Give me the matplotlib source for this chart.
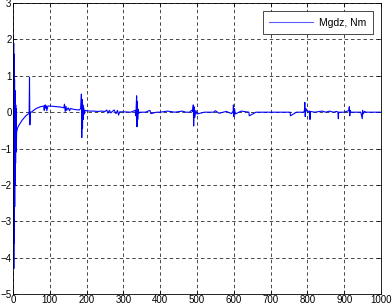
import matplotlib
matplotlib.use("Agg")
import matplotlib.pyplot as plt

# time samples and moment values (Mgdz, Nm)
t = [0, 0.4, 0.8, 1.2, 1.6, 2, 2.4, 2.8, 3.2, 3.6, 4, 4.4, 4.8, 5.2, 5.6, 6, 6.4, 6.8,
     7.2, 7.6, 8, 8.4, 8.8, 9.2, 9.6, 10,
     12, 15, 20, 25, 30, 35, 40, 44, 45, 46, 47, 50, 55, 60, 65, 70, 75, 80, 84, 85,
     86, 88, 90, 91, 92, 95, 100, 110, 120, 130, 138, 140, 142, 144, 146, 150, 154, 156,
     160, 165, 170, 180, 184, 186, 187, 188, 189, 190, 191, 192, 194, 196, 200, 210, 220,
     230, 240, 250, 255, 258, 262, 266, 270, 275, 280, 284, 287, 290, 295, 300, 320,
     332, 334, 336, 337, 338, 339, 340, 342, 345, 360, 372, 375, 390, 400, 420, 440, 460,
     470, 480, 485, 488, 490, 491, 492, 494, 497, 500, 520, 540, 545, 550, 560, 571, 580,
     594, 596, 598, 599, 600, 602, 604, 620, 640, 641, 642, 660, 680, 700, 720, 740, 752,
     753, 754, 770, 788, 790, 792, 793, 794, 796, 800, 806, 807, 808, 820, 840, 850, 860,
     870, 880, 883, 884, 885, 900, 912, 914, 915, 916, 918, 930, 945, 949, 950, 951, 955,
     960, 970, 980, 990, 1000]
v = [0, 1.8, -1.5, 2.1, -3.2, 1.9, -4.3, 1.6, -3.6, 1.2, -3.0, 0.9, -2.6, 0.6, -2.0, 0.4,
     -1.6, 0.3, -1.4, 0.2, -1.1, 0.1, -0.9, -0.1, -0.8, -0.55,
     -0.45, -0.38, -0.3, -0.22, -0.16, -0.1, -0.06, -0.03, 0.95, -0.35,
     0.0, 0.0, 0.04, 0.08, 0.11, 0.13, 0.15, 0.16, 0.17, 0.05, 0.18, 0.2, 0.1, 0.17, 0.04,
     0.17, 0.17, 0.16, 0.15, 0.14, 0.12, 0.22, 0.02, 0.16, 0.05, 0.12, 0.04, 0.1, 0.09, 0.08,
     0.07, 0.06, 0.1, 0.5, -0.7, 0.35, -0.45, 0.2, -0.2, 0.12, -0.05, 0.05, 0.04, 0.03, 0.03,
     0.02, 0.03, 0.02, 0.06, -0.03, 0.05, -0.02, 0.02, 0.06, -0.04, 0.05, -0.08, 0.01, 0.01,
     0.01, 0.0, 0.05, -0.1, 0.45, -0.4, 0.3, -0.2, 0.08, -0.03, 0.0, 0.0, 0.05, -0.04, 0.0,
     0.0, 0.03, 0.0, 0.03, 0.0, 0.0, 0.05, 0.02, 0.2, -0.38, 0.15, -0.15, 0.05, -0.05, 0.0,
     0.0, 0.0, 0.04, -0.03, 0.0, 0.02, -0.04, 0.0, 0.0, 0.2, -0.12, 0.1, -0.05, 0.03, 0.0, 0.0,
     -0.1, 0.0, 0.0, 0.0, 0.0, 0.0, 0.0, 0.0, -0.1, 0.0, 0.0, 0.0, 0.05, 0.27, -0.12, 0.1,
     0.02, 0.03, -0.2, 0.02, 0.0, 0.03, 0.0, 0.03, 0.0, 0.02, 0.0, -0.18, 0.0, 0.0, 0.04, 0.15,
     -0.1, 0.05, 0.0, 0.0, 0.0, -0.18, 0.05, -0.05, 0.02, 0.0, 0.0, 0.0, 0.0, 0.0]

xticks = list(range(0, 1001, 100))
yticks = list(range(-5, 4))

plt.rcParams["font.family"] = "Liberation Sans"
plt.rcParams["font.size"] = 7

fig = plt.figure(figsize=(3.92, 3.06), dpi=100)
ax = fig.add_axes([0.033, 0.039, 0.939, 0.951])
ax.plot(t, v, color="#0000ff", linewidth=0.8, label="Mgdz, Nm")

ax.set_xlim(0, 1000)
ax.set_ylim(-5, 3)
ax.set_xticks(xticks)
ax.set_yticks(yticks)
ax.tick_params(direction="in", length=3, width=0.5, top=True, right=True, pad=1)
ax.grid(True, linestyle=(0, (5, 4)), color="black", linewidth=0.5)
for s in ax.spines.values():
    s.set_linewidth(0.6)

leg = ax.legend(loc="upper right", fancybox=False, framealpha=1, edgecolor="black",
                handlelength=4.2, borderaxespad=0.8, fontsize=7.5,
                borderpad=0.6, handletextpad=0.6)
leg.get_frame().set_linewidth(0.5)
leg.get_lines()[0].set_color("#6060ff")

fig.savefig("out.png", dpi=100)
